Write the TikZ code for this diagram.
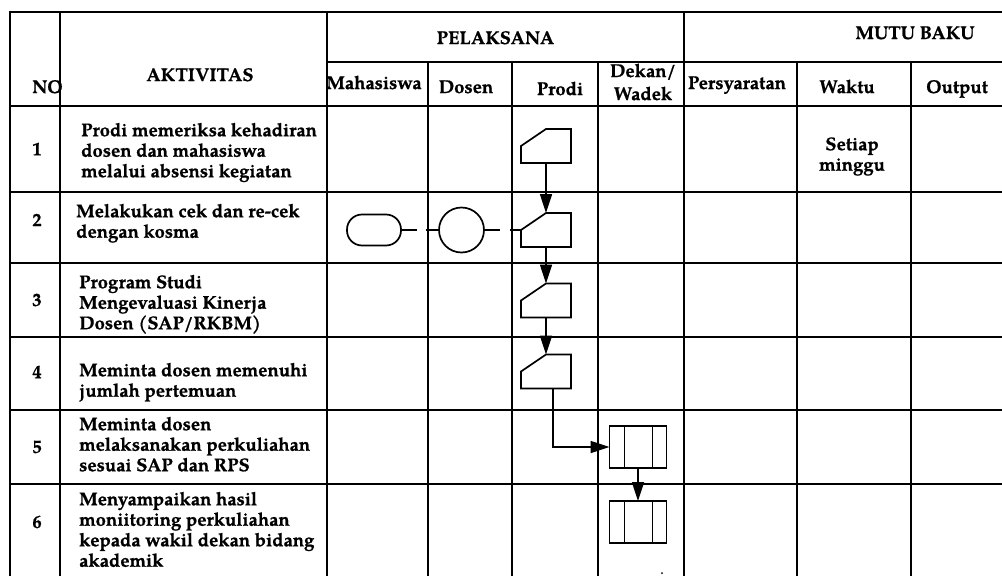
\documentclass[tikz,border=0pt]{standalone}
\usepackage{fontspec}
\setmainfont{texgyrepagella}[Extension=.otf, UprightFont=*-regular, BoldFont=*-bold, ItalicFont=*-italic, BoldItalicFont=*-bolditalic, BoldFeatures={FakeBold=0.8}]
\usetikzlibrary{arrows.meta,calc}
\newcommand\tf{\fontsize{18.5}{20.5}\selectfont\bfseries}
\newcommand\fst{\rule{0pt}{15pt}}
\newcommand\maninput[1]{\draw[shp] (#1.west) -- (#1.south west) -- (#1.south east) -- (#1.north east) -- (#1.north) -- cycle;}
\newcommand\predproc[1]{%
  \draw[shp] (#1.north west) rectangle (#1.south east);
  \draw[shp] ($(#1.north west)+(15,0)$) -- ($(#1.south west)+(15,0)$);
  \draw[shp] ($(#1.north east)+(-14,0)$) -- ($(#1.south east)+(-14,0)$);}
\tikzset{
  grid/.style={line width=2pt, line cap=rect},
  shp/.style={line width=1.7pt, line join=miter},
  arr/.style={line width=1.7pt, -{Triangle[length=19pt,width=12pt]}},
  hd/.style={font=\tf, inner sep=0pt, anchor=base},
  rowtxt/.style={font=\tf, align=left, anchor=north west, inner sep=0pt},
  num/.style={font=\tf, inner sep=0pt},
  mibox/.style={inner sep=0pt, outer sep=0pt, minimum width=50pt, minimum height=34pt},
  ppbox/.style={inner sep=0pt, outer sep=0pt, minimum width=57pt, minimum height=42pt},
  term/.style={draw, line width=1.7pt, inner sep=0pt, outer sep=0pt, rounded corners=15pt, minimum width=54pt, minimum height=31pt},
  conn/.style={draw, circle, line width=1.7pt, inner sep=0pt, outer sep=0pt, minimum size=45pt}
}
\begin{document}
\begin{tikzpicture}[x=1pt,y=-1pt]
\useasboundingbox (0,0) rectangle (1002,576);
\fill[white] (0,0) rectangle (1002,576);
% table grid
\draw[grid] (10,576) -- (10,12) -- (1002,12);
\foreach \x in {60,327,684} \draw[grid] (\x,12) -- (\x,576);
\draw[grid] (327,62) -- (1002,62);
\foreach \x in {428,512,598,797,911} \draw[grid] (\x,62) -- (\x,576);
\foreach \y in {106,192,263,337,410,484} \draw[grid] (10,\y) -- (1002,\y);
% header
\node[hd, anchor=base west] (hno) at (32,93) {NO};
\node[hd] (hakt) at (200,81) {AKTIVITAS};
\node[hd] (hpel) at (495.5,44) {PELAKSANA};
\node[hd] (hmutu) at (915,39) {MUTU BAKU};
\node[hd] (hmhs) at (374,89) {Mahasiswa};
\node[hd] (hdos) at (466,93) {Dosen};
\node[hd] (hpro) at (560,95) {Prodi};
\node[hd] (hdek) at (643,77) {Dekan/};
\node[hd] (hwad) at (643,100) {Wadek};
\node[hd] (hper) at (737,89) {Persyaratan};
\node[hd] (hwak) at (847,93) {Waktu};
\node[hd] (hout) at (957,93) {Output};
% numbers
\node[num] (n1) at (37,149) {1};
\node[num] (n2) at (37,220) {2};
\node[num] (n3) at (37,300) {3};
\node[num] (n4) at (37,372) {4};
\node[num] (n5) at (37,447) {5};
\node[num] (n6) at (37,522) {6};
% activities
\node[rowtxt] (a1) at (81,121) {\fst Prodi memeriksa kehadiran\\dosen dan mahasiswa\\melalui absensi kegiatan};
\node[rowtxt] (a2) at (76,202) {\fst Melakukan cek dan re-cek\\dengan kosma};
\node[rowtxt] (a3) at (79,273) {\fst Program Studi\\Mengevaluasi Kinerja\\Dosen (SAP/RKBM)};
\node[rowtxt] (a4) at (79,361) {\fst Meminta dosen memenuhi\\jumlah pertemuan};
\node[rowtxt] (a5) at (79,415) {\fst Meminta dosen\\melaksanakan perkuliahan\\sesuai SAP dan RPS};
\node[rowtxt] (a6) at (79,490) {\fst Menyampaikan hasil\\moniitoring perkuliahan\\kepada wakil dekan bidang\\akademik};
% waktu
\node[font=\tf, align=center, inner sep=0pt, anchor=north] (w1) at (852,135) {\fst Setiap\\minggu};
% flow shapes
\node[mibox] (p1) at (546,146) {};
\node[mibox] (p2) at (546,230) {};
\node[mibox] (p3) at (546,300.5) {};
\node[mibox] (p4) at (546,371.5) {};
\maninput{p1}\maninput{p2}\maninput{p3}\maninput{p4}
\node[term] (m2) at (374,230) {};
\node[conn] (c2) at (461.5,230) {};
\node[ppbox] (d5) at (638,447) {};
\node[ppbox] (d6) at (638,522) {};
\predproc{d5}\predproc{d6}
% connectors
\draw[shp, dash pattern=on 16pt off 9pt on 40pt off 1pt] (m2.east) -- (c2.west);
\draw[shp, dash pattern=on 16pt off 10pt on 40pt off 1pt] (c2.east) -- (p2.west);
\draw[arr] (p1.south) -- (p2.north);
\draw[arr] (p2.south) -- (p3.north);
\draw[arr] (p3.south) -- (p4.north);
\draw[arr] ($(p4.south)+(7,0)$) |- (d5.west);
\draw[arr] (d5.south) -- (d6.north);
\fill (662,573) circle (1pt);
\end{tikzpicture}
\end{document}
